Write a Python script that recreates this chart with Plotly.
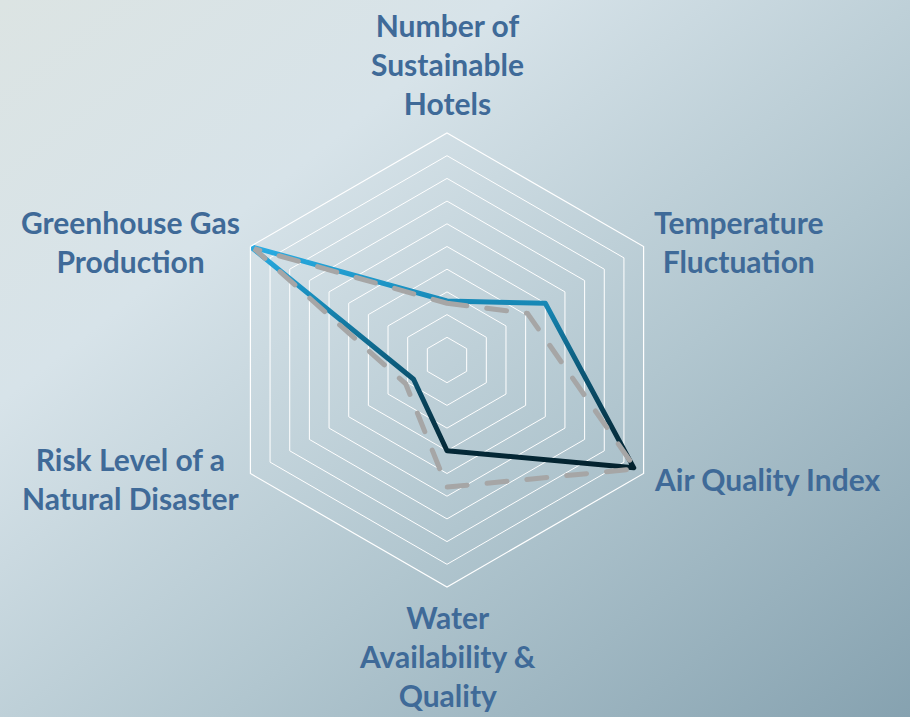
import base64
import math
import plotly.graph_objects as go

categories = [
    "Number of<br>Sustainable<br>Hotels",
    "Temperature<br>Fluctuation",
    "Air Quality Index",
    "Water<br>Availability &<br>Quality",
    "Risk Level of a<br>Natural Disaster",
    "Greenhouse Gas<br>Production",
]
current_values = [2.6, 5.0, 9.5, 4.0, 1.7, 10.0]
baseline_values = [2.5, 4.1, 9.6, 5.6, 2.1, 9.8]
r_max = 10

W, H = 910, 717
CX, CY, R = 447, 360, 227   # polar centre / radius in page pixels (from top-left)
LABEL_PAD = 10

bg_svg = f"""<svg xmlns='http://www.w3.org/2000/svg' width='{W}' height='{H}' viewBox='0 0 {W} {H}' preserveAspectRatio='none'>
<defs><linearGradient id='g' x1='0' y1='0' x2='1' y2='1'>
<stop offset='0' stop-color='#dce4e3'/>
<stop offset='0.28' stop-color='#d7e3e9'/>
<stop offset='0.62' stop-color='#b1c6cf'/>
<stop offset='1' stop-color='#86a2b0'/>
</linearGradient></defs>
<rect width='{W}' height='{H}' fill='url(#g)'/></svg>"""
bg_uri = "data:image/svg+xml;base64," + base64.b64encode(bg_svg.encode()).decode()

closed_cats = categories + categories[:1]

fig = go.Figure()
fig.add_trace(go.Scatterpolar(
    r=current_values + current_values[:1],
    theta=closed_cats,
    mode="lines",
    line=dict(color="#1788b6", width=5),
    hoverinfo="skip",
    name="current",
))
fig.add_trace(go.Scatterpolar(
    r=baseline_values + baseline_values[:1],
    theta=closed_cats,
    mode="lines",
    line=dict(color="#a6a6a6", width=5, dash="20px,20px"),
    hoverinfo="skip",
    name="baseline",
))

# category labels as centred text blocks just outside each hexagon vertex
annotations = []
n = len(categories)
for i, cat in enumerate(categories):
    ang = math.radians(90 - i * 360 / n)
    dx, dy = math.cos(ang), math.sin(ang)
    px = CX + (R + LABEL_PAD) * dx
    py = CY - (R + LABEL_PAD) * dy
    if abs(dx) < 1e-6:
        xa = "center"
        ya = "bottom" if dy > 0 else "top"
    else:
        xa = "left" if dx > 0 else "right"
        ya = "middle"
    annotations.append(dict(
        text=cat, x=px / W, y=1 - py / H, xref="paper", yref="paper",
        xanchor=xa, yanchor=ya, align="center", showarrow=False,
        font=dict(family="Lato", size=30, color="#3f6a98", weight=700),
    ))

fig.update_layout(
    width=W, height=H, autosize=False,
    showlegend=False,
    margin=dict(l=0, r=0, t=0, b=0),
    paper_bgcolor="#c0d0d6",
    plot_bgcolor="rgba(0,0,0,0)",
    font=dict(family="Lato", size=30, color="#3f6a98"),
    annotations=annotations,
    images=[dict(
        source=bg_uri, xref="paper", yref="paper",
        x=0, y=1, sizex=1, sizey=1,
        xanchor="left", yanchor="top", sizing="stretch", layer="below",
    )],
    polar=dict(
        domain=dict(x=[(CX - R) / W, (CX + R) / W], y=[1 - (CY + R) / H, 1 - (CY - R) / H]),
        bgcolor="rgba(0,0,0,0)",
        gridshape="linear",
        angularaxis=dict(
            direction="clockwise", rotation=90,
            showgrid=False, showline=True, linecolor="white", linewidth=1.2,
            ticks="", showticklabels=False,
        ),
        radialaxis=dict(
            range=[0, r_max], dtick=1, showticklabels=False, showline=False,
            ticks="", gridcolor="white", gridwidth=1.2,
        ),
    ),
)

post_js = """
(function(){
  document.documentElement.style.margin = '0';
  document.documentElement.style.overflow = 'hidden';
  document.body.style.margin = '0';
  document.body.style.overflow = 'hidden';
  var gd = document.getElementById('{plot_id}');
  var ns = 'http://www.w3.org/2000/svg';
  function apply(){
    var svg = gd.querySelector('svg.main-svg');
    if(!svg) return;
    if(!document.getElementById('lineGrad')){
      var defs = svg.querySelector('defs');
      if(!defs){ defs = document.createElementNS(ns,'defs'); svg.insertBefore(defs, svg.firstChild); }
      var lg = document.createElementNS(ns,'linearGradient');
      lg.setAttribute('id','lineGrad');
      lg.setAttribute('x1','0'); lg.setAttribute('y1','0');
      lg.setAttribute('x2','0'); lg.setAttribute('y2','1');
      [['0','#2aade4'],['0.25','#1789b7'],['0.55','#0c5a7a'],['0.8','#073649'],['1','#03212d']].forEach(function(s){
        var st = document.createElementNS(ns,'stop');
        st.setAttribute('offset', s[0]); st.setAttribute('stop-color', s[1]);
        lg.appendChild(st);
      });
      defs.appendChild(lg);
    }
    var traces = gd.querySelectorAll('.scatterlayer .trace');
    if(traces.length){
      var p = traces[0].querySelector('path.js-line');
      if(p){ p.style.stroke = 'url(#lineGrad)'; p.style.strokeLinejoin = 'round'; }
      var p2 = traces.length > 1 ? traces[1].querySelector('path.js-line') : null;
      if(p2){ p2.style.strokeLinecap = 'round'; }
    }
  }
  apply();
  if(gd.on){ gd.on('plotly_afterplot', apply); }
})();
"""

fig.write_html("out.html", post_script=post_js, config={"displayModeBar": False})
